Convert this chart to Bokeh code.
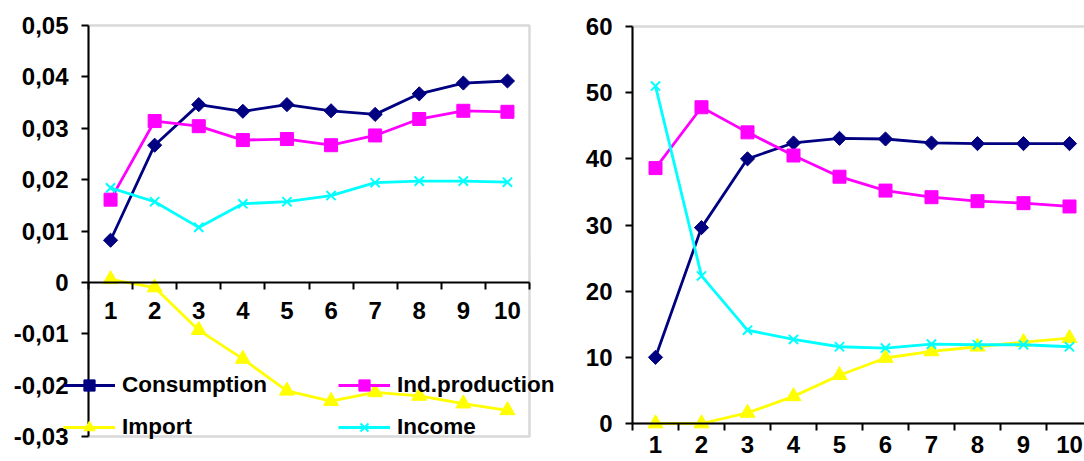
import numpy as np
from bokeh.plotting import figure
from bokeh.models import FixedTicker, Range1d, Legend, LegendItem, BoxAnnotation
from bokeh.layouts import row
from bokeh.embed import file_html
from bokeh.resources import INLINE

# ---------------- data ----------------
periods = [1, 2, 3, 4, 5, 6, 7, 8, 9, 10]
period_bounds = [0.5, 1.5, 2.5, 3.5, 4.5, 5.5, 6.5, 7.5, 8.5, 9.5, 10.5]

series_names = ["Consumption", "Ind.production", "Import", "Income"]

left_consumption = [0.0082, 0.0267, 0.0346, 0.0333, 0.0346, 0.0334, 0.0327, 0.0367, 0.0388, 0.0392]
left_indprod = [0.0161, 0.0314, 0.0304, 0.0277, 0.0279, 0.0267, 0.0286, 0.0318, 0.0334, 0.0332]
left_import = [0.0006, -0.0010, -0.0093, -0.0149, -0.0211, -0.0231, -0.0214, -0.0221, -0.0236, -0.0249]
left_income = [0.0184, 0.0157, 0.0107, 0.0153, 0.0157, 0.0169, 0.0194, 0.0197, 0.0197, 0.0195]

right_consumption = [10.0, 29.6, 40.0, 42.4, 43.1, 43.0, 42.4, 42.3, 42.3, 42.3]
right_indprod = [38.6, 47.8, 44.0, 40.5, 37.3, 35.2, 34.2, 33.6, 33.3, 32.8]
right_import = [0.0, 0.0, 1.6, 4.1, 7.3, 9.9, 10.9, 11.6, 12.3, 12.9]
right_income = [51.0, 22.3, 14.1, 12.7, 11.6, 11.4, 12.0, 11.9, 11.9, 11.6]

left_y_ticks = [-0.03, -0.02, -0.01, 0, 0.01, 0.02, 0.03, 0.04, 0.05]
left_y_labels = ["-0,03", "-0,02", "-0,01", "0", "0,01", "0,02", "0,03", "0,04", "0,05"]
right_y_ticks = [0, 10, 20, 30, 40, 50, 60]
right_y_labels = ["0", "10", "20", "30", "40", "50", "60"]

# ---------------- styles / layout ----------------
FONT = "Liberation Sans"
colors = {"Consumption": "#000080", "Ind.production": "#FF00FF",
          "Import": "#FFFF00", "Income": "#00FFFF"}
markers = {"Consumption": dict(marker="square", angle=np.pi / 4, size=10),
           "Ind.production": dict(marker="square", size=13),
           "Import": dict(marker="triangle", size=15),
           "Income": dict(marker="x", size=13)}

W1, W2, H = 575, 509, 461


def x_view(v0, p0, v1, p1, total):
    s = (p1 - p0) / (v1 - v0)
    return Range1d(v0 - p0 / s, v0 + (total - p0) / s)


def y_view(v_top, p_top, v_bot, p_bot, total):
    s = (p_bot - p_top) / (v_top - v_bot)
    return Range1d(v_bot - (total - p_bot) / s, v_top + p_top / s)


def make_fig(width, xr, yr, y_ticks, y_labels, x_standoff):
    p = figure(width=width, height=H, output_backend="svg", toolbar_location=None,
               x_range=xr, y_range=yr,
               min_border_left=0, min_border_right=0, min_border_top=0, min_border_bottom=0,
               background_fill_color="white", border_fill_color="white")
    p.outline_line_color = None
    p.grid.visible = False
    # y axis, pinned at the first category boundary
    p.yaxis.fixed_location = period_bounds[0]
    p.yaxis.bounds = (y_ticks[0], y_ticks[-1])
    p.yaxis.ticker = FixedTicker(ticks=y_ticks)
    p.yaxis.major_label_overrides = {t: l for t, l in zip(y_ticks, y_labels)}
    p.yaxis.minor_tick_line_color = None
    p.yaxis.major_tick_in = 0
    p.yaxis.major_tick_out = 7
    p.yaxis.major_tick_line_width = 2
    p.yaxis.major_label_standoff = 13
    p.yaxis.axis_line_color = "#000000"
    p.yaxis.axis_line_width = 2
    # x axis, pinned at zero
    p.xaxis.fixed_location = 0
    p.xaxis.bounds = (period_bounds[0], period_bounds[-1])
    p.xaxis.ticker = FixedTicker(ticks=periods, minor_ticks=period_bounds)
    p.xaxis.major_tick_in = 0
    p.xaxis.major_tick_out = 0
    p.xaxis.minor_tick_in = 0
    p.xaxis.minor_tick_out = 7
    p.xaxis.minor_tick_line_color = "#000000"
    p.xaxis.minor_tick_line_width = 2
    p.xaxis.axis_line_color = "#000000"
    p.xaxis.axis_line_width = 2
    p.xaxis.major_label_standoff = x_standoff
    for ax in (p.xaxis, p.yaxis):
        ax.major_label_text_font = FONT
        ax.major_label_text_font_style = "bold"
        ax.major_label_text_font_size = "24px"
        ax.major_label_text_color = "#000000"
    return p


def draw_series(p, values):
    rends = {}
    for name in series_names:
        c = colors[name]
        lr = p.line(periods, values[name], line_color=c, line_width=2.8)
        m = markers[name]
        if m["marker"] == "x":
            sr = p.scatter(periods, values[name], marker="x", size=m["size"],
                           line_color=c, line_width=2)
        else:
            sr = p.scatter(periods, values[name], marker=m["marker"], size=m["size"],
                           angle=m.get("angle", 0), fill_color=c, line_color=c)
        rends[name] = [lr, sr]
    return rends


# ---------------- left chart ----------------
p1 = make_fig(W1,
              x_view(period_bounds[0], 88, period_bounds[-1], 529, W1),
              y_view(left_y_ticks[-1], 25, left_y_ticks[0], 436, H),
              left_y_ticks, left_y_labels, 13)
p1.add_layout(BoxAnnotation(left=period_bounds[0], right=period_bounds[-1],
                            bottom=left_y_ticks[0], top=left_y_ticks[-1],
                            fill_alpha=0, line_color="#808080", line_width=2.5,
                            level="underlay"))
r1 = draw_series(p1, {"Consumption": left_consumption, "Ind.production": left_indprod,
                      "Import": left_import, "Income": left_income})


def make_legend(names, loc):
    lg = Legend(items=[LegendItem(label=n, renderers=r1[n]) for n in names],
                location=loc, orientation="vertical")
    lg.label_text_font = FONT
    lg.label_text_font_style = "bold"
    lg.label_text_font_size = "22.5px"
    lg.label_text_color = "#000000"
    lg.glyph_width = 52
    lg.glyph_height = 28
    lg.label_height = 20
    lg.label_standoff = 7
    lg.spacing = 14
    lg.padding = 0
    lg.margin = 0
    lg.border_line_alpha = 0
    lg.background_fill_alpha = 0
    return lg


p1.add_layout(make_legend(["Consumption", "Import"], (63, 20)), "center")
p1.add_layout(make_legend(["Ind.production", "Income"], (338, 20)), "center")

# ---------------- right chart ----------------
p2 = make_fig(W2,
              x_view(period_bounds[0], 57, period_bounds[-1], 517, W2),
              y_view(right_y_ticks[-1], 26, right_y_ticks[0], 423, H),
              right_y_ticks, right_y_labels, 5)
p2.add_layout(BoxAnnotation(left=period_bounds[0], right=period_bounds[-1],
                            bottom=right_y_ticks[0], top=right_y_ticks[-1],
                            fill_alpha=0, line_color="#808080", line_width=2.5,
                            level="underlay"))
draw_series(p2, {"Consumption": right_consumption, "Ind.production": right_indprod,
                 "Import": right_import, "Income": right_income})

layout = row(p1, p2, spacing=0)
open("out.html", "w").write(file_html(layout, INLINE))
